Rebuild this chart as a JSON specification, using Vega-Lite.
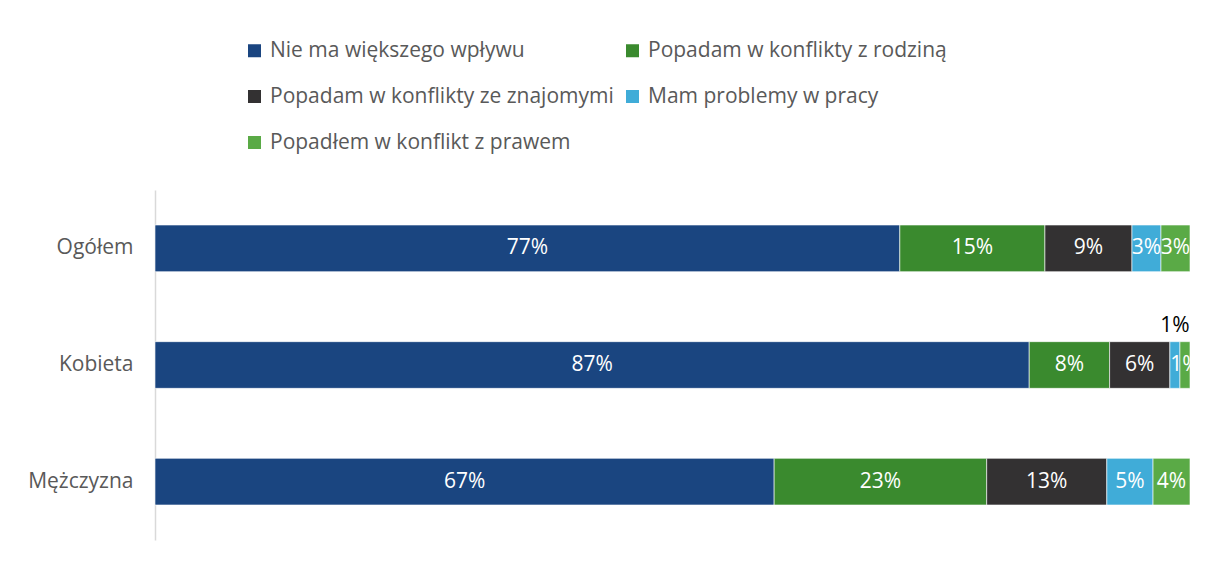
{
  "$schema": "https://vega.github.io/schema/vega-lite/v6.json",
  "width": 1035,
  "height": 350,
  "autosize": "none",
  "padding": {"left": 155, "top": 190, "right": 18, "bottom": 21},
  "background": "white",
  "config": {"view": {"stroke": null}, "font": "Open Sans"},
  "data": {
    "values": [
      {"group": "Ogółem", "cat": "Nie ma większego wpływu", "ord": 1, "value": 0.77},
      {"group": "Ogółem", "cat": "Popadam w konflikty z rodziną", "ord": 2, "value": 0.15},
      {"group": "Ogółem", "cat": "Popadam w konflikty ze znajomymi", "ord": 3, "value": 0.09},
      {"group": "Ogółem", "cat": "Mam problemy w pracy", "ord": 4, "value": 0.03},
      {"group": "Ogółem", "cat": "Popadłem w konflikt z prawem", "ord": 5, "value": 0.03},
      {"group": "Kobieta", "cat": "Nie ma większego wpływu", "ord": 1, "value": 0.87},
      {"group": "Kobieta", "cat": "Popadam w konflikty z rodziną", "ord": 2, "value": 0.08},
      {"group": "Kobieta", "cat": "Popadam w konflikty ze znajomymi", "ord": 3, "value": 0.06},
      {"group": "Kobieta", "cat": "Mam problemy w pracy", "ord": 4, "value": 0.01},
      {"group": "Kobieta", "cat": "Popadłem w konflikt z prawem", "ord": 5, "value": 0.01},
      {"group": "Mężczyzna", "cat": "Nie ma większego wpływu", "ord": 1, "value": 0.67},
      {"group": "Mężczyzna", "cat": "Popadam w konflikty z rodziną", "ord": 2, "value": 0.23},
      {"group": "Mężczyzna", "cat": "Popadam w konflikty ze znajomymi", "ord": 3, "value": 0.13},
      {"group": "Mężczyzna", "cat": "Mam problemy w pracy", "ord": 4, "value": 0.05},
      {"group": "Mężczyzna", "cat": "Popadłem w konflikt z prawem", "ord": 5, "value": 0.04}
    ]
  },
  "encoding": {
    "y": {
      "field": "group",
      "type": "nominal",
      "sort": ["Ogółem", "Kobieta", "Mężczyzna"],
      "scale": {"paddingInner": 0.6, "paddingOuter": 0.3},
      "axis": {
        "title": null,
        "ticks": false,
        "domainColor": "#D9D9D9",
        "domainWidth": 1.5,
        "labelFontSize": 21,
        "labelColor": "#595959",
        "labelPadding": 22
      }
    },
    "x": {"field": "value", "type": "quantitative", "stack": "normalize", "axis": null},
    "order": {"field": "ord", "type": "quantitative"}
  },
  "layer": [
    {
      "mark": {"type": "bar", "stroke": "white", "strokeWidth": 0.6},
      "encoding": {
        "color": {
          "field": "cat",
          "type": "nominal",
          "sort": ["Nie ma większego wpływu", "Popadam w konflikty z rodziną", "Popadam w konflikty ze znajomymi", "Mam problemy w pracy", "Popadłem w konflikt z prawem"],
          "scale": {
            "domain": ["Nie ma większego wpływu", "Popadam w konflikty z rodziną", "Popadam w konflikty ze znajomymi", "Mam problemy w pracy", "Popadłem w konflikt z prawem"],
            "range": ["#1A4580", "#3A8A2E", "#333132", "#40ACD8", "#5AAA46"]
          },
          "legend": {
            "orient": "none",
            "direction": "horizontal",
            "legendX": 89,
            "legendY": -150,
            "columns": 2,
            "title": null,
            "symbolType": "square",
            "symbolSize": 169,
            "symbolStrokeWidth": 0,
            "labelFontSize": 21,
            "labelColor": "#595959",
            "labelOffset": 5,
            "rowPadding": 24,
            "columnPadding": 8,
            "labelLimit": 500
          }
        }
      }
    },
    {
      "mark": {"type": "text", "color": "white", "fontSize": 21, "clip": true},
      "encoding": {
        "x": {"field": "value", "type": "quantitative", "stack": "normalize", "bandPosition": 0.5, "axis": null},
        "text": {"field": "value", "type": "quantitative", "format": ".0%"},
        "opacity": {"condition": {"test": "datum.group == 'Kobieta' && datum.cat == 'Mam problemy w pracy'", "value": 0}, "value": 1}
      }
    },
    {
      "mark": {"type": "text", "color": "black", "fontSize": 21, "dy": -39},
      "encoding": {
        "x": {"field": "value", "type": "quantitative", "stack": "normalize", "bandPosition": 0.5, "axis": null},
        "text": {"field": "value", "type": "quantitative", "format": ".0%"},
        "opacity": {"condition": {"test": "datum.group == 'Kobieta' && datum.cat == 'Mam problemy w pracy'", "value": 1}, "value": 0}
      }
    }
  ]
}
